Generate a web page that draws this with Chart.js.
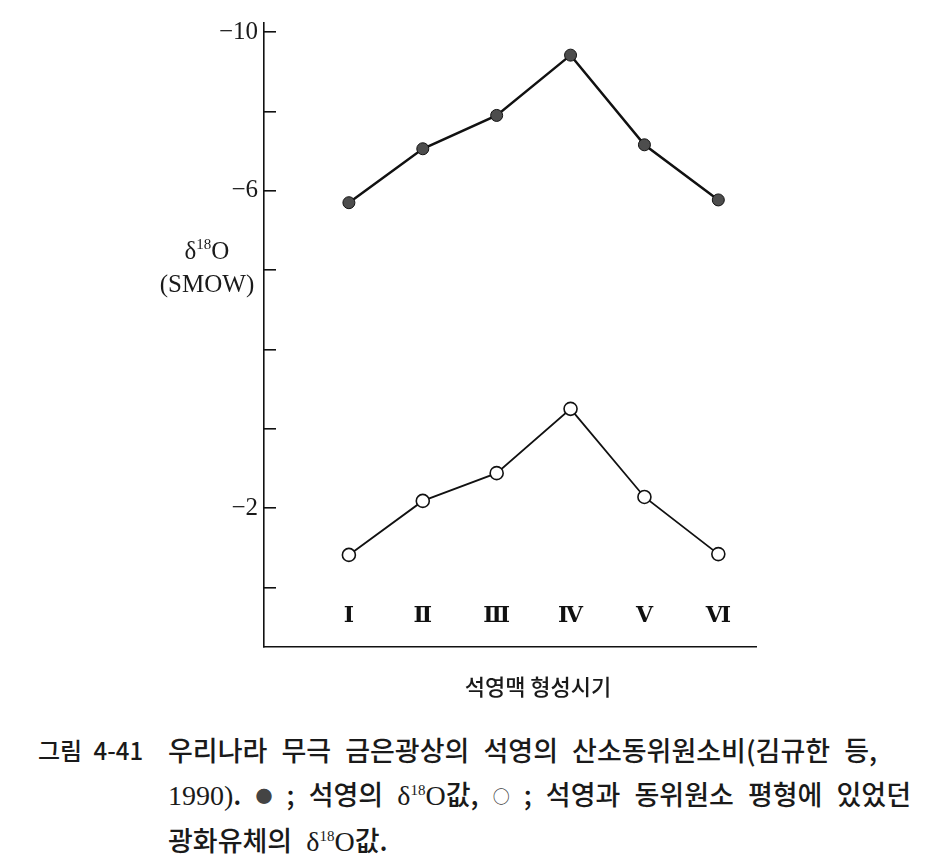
<!DOCTYPE html>
<html>
<head>
<meta charset="utf-8">
<script src="https://cdn.jsdelivr.net/npm/chart.js@4"></script>
<style>
  body { margin: 0; background: #fff; }
  #wrap { position: relative; width: 935px; height: 860px; }
  #myChart { position: absolute; left: 0; top: 0; }
  .cap { position: absolute; font-family: "Noto Sans CJK KR", sans-serif; font-size: 27px;
         font-weight: 500; color: #1a1a1a; word-spacing: 8px; white-space: nowrap; line-height: 44px; }
  .lbl { font-size: 24px; word-spacing: 6px; }
  .num { font-family: "Liberation Serif", serif; font-size: 28px; }
  .dot { font-size: 17px; color: #444; vertical-align: 2px; }
  sup { font-size: 15px; line-height: 0; vertical-align: 10px; }
</style>
</head>
<body>
<div id="wrap">
  <canvas id="myChart" width="935" height="715"></canvas>
  <div class="cap lbl" style="left:38px; top:728px;">그림 4-41</div>
  <div class="cap" style="left:168px; top:728px;">
    우리나라 무극 금은광상의 석영의 산소동위원소비(김규한 등,<br>
    <span class="num">1990)</span>. <span class="dot">●</span> ; 석영의 <span class="num">δ<sup>18</sup>O</span>값, <span class="dot">○</span> ; 석영과 동위원소 평형에 있었던<br>
    광화유체의 <span class="num">δ<sup>18</sup>O</span>값.
  </div>
</div>
<script>
// setup
const periods = ['Ⅰ', 'Ⅱ', 'Ⅲ', 'Ⅳ', 'Ⅴ', 'Ⅵ'];
const quartzValues = [-5.7, -7.06, -7.9, -9.42, -7.16, -5.77];   // ● 석영
const fluidValues = [-1.41, -2.09, -2.44, -3.25, -2.14, -1.42];  // ○ 광화유체
const tickValues = [-10, -8, -6, -4, -2, 0, 2, 4];
const tickLabels = ['−10', '', '−6', '', '', '', '−2', ''];
const xTitle = '석영맥 형성시기';

const serif = "'Liberation Serif', 'DejaVu Serif', serif";

// axis titles drawn next to the axes
const axisTitles = {
  id: 'axisTitles',
  afterDraw(chart) {
    const ctx = chart.ctx;
    ctx.save();
    ctx.fillStyle = '#1a1a1a';
    ctx.textBaseline = 'middle';
    const big = '25px ' + serif, small = '15px ' + serif;
    ctx.font = big;
    const wd = ctx.measureText('δ').width, wo = ctx.measureText('O').width;
    ctx.font = small;
    const ws = ctx.measureText('18').width;
    let x = 207 - (wd + ws + wo) / 2;
    const y = 252;
    ctx.font = big; ctx.textAlign = 'left';
    ctx.fillText('δ', x, y); x += wd;
    ctx.font = small; ctx.fillText('18', x, y - 7); x += ws;
    ctx.font = big; ctx.fillText('O', x, y);
    ctx.textAlign = 'center';
    ctx.fillText('(SMOW)', 207, 285);
    ctx.font = "500 22px 'Noto Sans CJK KR', sans-serif";
    ctx.fillText(xTitle, 538, 687);
    ctx.restore();
  }
};

const data = {
  datasets: [{
    label: 'quartz',
    data: quartzValues.map((v, i) => ({ x: i + 1, y: v })),
    borderColor: '#111',
    borderWidth: 2.5,
    pointRadius: 6,
    pointBackgroundColor: '#4d4d4d',
    pointBorderColor: '#111',
    pointBorderWidth: 1,
    yAxisID: 'y'
  }, {
    label: 'fluid',
    data: fluidValues.map((v, i) => ({ x: i + 1, y: v })),
    borderColor: '#111',
    borderWidth: 1.8,
    pointRadius: 6.5,
    pointBackgroundColor: '#fff',
    pointBorderColor: '#111',
    pointBorderWidth: 1.6,
    yAxisID: 'y2'
  }]
};

// config
const config = {
  type: 'line',
  data: data,
  plugins: [axisTitles],
  options: {
    responsive: false,
    animation: false,
    layout: { padding: { top: 23, right: 179, bottom: 15, left: 0 } },
    plugins: { legend: { display: false }, tooltip: { enabled: false } },
    scales: {
      x: {
        type: 'linear',
        min: -0.149,
        max: 6.51,
        grid: { display: false },
        border: { display: true, color: '#111', width: 1.6 },
        afterBuildTicks: s => { s.ticks = periods.map((p, i) => ({ value: i + 1 })); },
        afterFit: s => { s.height = 53; s.paddingLeft = 0; s.paddingRight = 0; },
        ticks: {
          autoSkip: false,
          maxRotation: 0,
          mirror: true,
          padding: 17,
          color: '#111',
          font: { family: serif, size: 22, weight: 'bold' },
          callback: v => periods[v - 1]
        }
      },
      y: {
        type: 'linear',
        reverse: true,
        min: -10.23,
        max: 5.5,
        afterBuildTicks: s => { s.ticks = tickValues.map(v => ({ value: v })); },
        afterFit: s => { s.width = 264; s.paddingTop = 0; s.paddingBottom = 0; },
        grid: { drawOnChartArea: false, color: '#111', lineWidth: 1.6, tickLength: -12 },
        border: { display: true, color: '#111', width: 1.6 },
        ticks: {
          padding: 18,
          color: '#1a1a1a',
          font: { family: serif, size: 25 },
          callback: (v, i) => tickLabels[i]
        }
      },
      y2: {
        type: 'linear',
        display: false,
        reverse: true,
        min: -8.11,
        max: -0.25
      }
    }
  }
};

// render init block
const myChart = new Chart(document.getElementById('myChart'), config);
</script>
</body>
</html>
